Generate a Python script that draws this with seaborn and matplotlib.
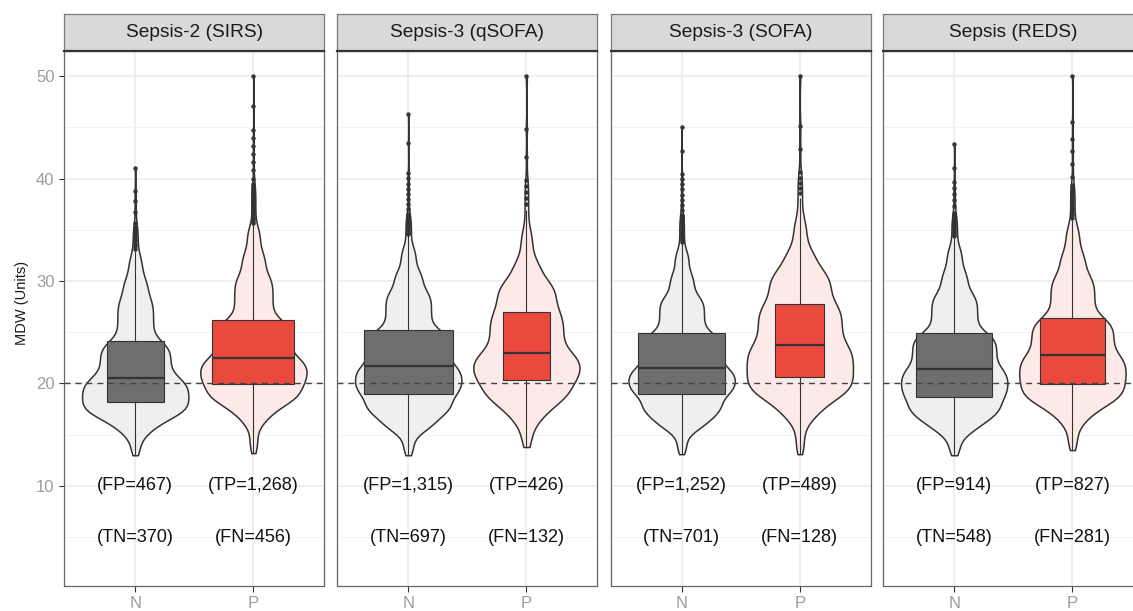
import numpy as np
import pandas as pd
import matplotlib
matplotlib.use("Agg")
import matplotlib.pyplot as plt
import seaborn as sns

# ---- data -------------------------------------------------------------
criteria = ["Sepsis-2 (SIRS)", "Sepsis-3 (qSOFA)", "Sepsis-3 (SOFA)", "Sepsis (REDS)"]
groups = ["N", "P"]

# confusion-matrix counts per criterion
fp = [467, 1315, 1252, 914]
tn = [370, 697, 701, 548]
tp = [1268, 426, 489, 827]
fn = [456, 132, 128, 281]

# MDW quantiles at these probability levels, per criterion and group
q_levels = [0.0, 0.02, 0.05, 0.10, 0.25, 0.50, 0.75, 0.90, 0.95, 0.98, 0.995, 0.999, 1.0]

sirs_n = [13.0, 15.0, 15.9, 16.8, 18.2, 20.55, 24.1, 28.3, 30.3, 32.5, 35.5, 39.0, 41.0]
sirs_p = [13.2, 16.0, 17.2, 18.2, 19.95, 22.5, 26.2, 30.5, 32.8, 35.3, 39.5, 45.0, 50.0]
qsofa_n = [13.0, 15.2, 16.0, 17.0, 19.0, 21.7, 25.2, 29.0, 31.0, 33.3, 36.5, 40.5, 46.3]
qsofa_p = [13.8, 16.0, 17.2, 18.3, 20.3, 23.0, 27.0, 30.0, 32.0, 35.0, 40.0, 46.0, 50.0]
sofa_n = [13.1, 15.3, 16.1, 17.0, 19.0, 21.5, 24.9, 28.5, 30.7, 33.0, 36.5, 40.5, 45.0]
sofa_p = [13.1, 16.3, 17.5, 18.7, 20.6, 23.75, 27.75, 31.0, 33.0, 36.0, 40.5, 46.0, 50.0]
reds_n = [13.0, 15.0, 15.9, 16.8, 18.7, 21.45, 24.95, 28.8, 31.0, 33.3, 36.5, 40.0, 43.4]
reds_p = [13.5, 16.0, 17.2, 18.2, 19.95, 22.75, 26.4, 30.5, 32.8, 35.4, 39.5, 45.0, 50.0]

quantiles = {
    ("Sepsis-2 (SIRS)", "N"): sirs_n, ("Sepsis-2 (SIRS)", "P"): sirs_p,
    ("Sepsis-3 (qSOFA)", "N"): qsofa_n, ("Sepsis-3 (qSOFA)", "P"): qsofa_p,
    ("Sepsis-3 (SOFA)", "N"): sofa_n, ("Sepsis-3 (SOFA)", "P"): sofa_p,
    ("Sepsis (REDS)", "N"): reds_n, ("Sepsis (REDS)", "P"): reds_p,
}

# expand each group's quantile function into one value per patient
rows = []
for i, crit in enumerate(criteria):
    sizes = {"N": fp[i] + tn[i], "P": tp[i] + fn[i]}
    for g in groups:
        n = sizes[g]
        vals = np.interp(np.linspace(0, 1, n), q_levels, quantiles[(crit, g)])
        rows.append(pd.DataFrame({"criterion": crit, "group": g, "MDW": vals}))
df = pd.concat(rows, ignore_index=True)

# ---- style ------------------------------------------------------------
sns.set_theme(style="white")
plt.rcParams["font.family"] = ["Liberation Sans", "DejaVu Sans"]

violin_fill = {"N": "#efefef", "P": "#fde9e7"}
box_fill = {"N": "#6e6e6e", "P": "#ea4a3e"}
dark = "#333333"
tick_grey = "#9c9c9c"

W, H = 1133, 611
fig = plt.figure(figsize=(W / 100, H / 100), dpi=100)

panel_left = [64.3, 337.3, 610.7, 883.3]
panel_w = 260.0
panel_top, panel_bot = 50.7, 586.3
strip_top = 14.0

max_n = max(max(fp[i] + tn[i], tp[i] + fn[i]) for i in range(len(criteria)))

for i, crit in enumerate(criteria):
    x0 = panel_left[i]
    ax = fig.add_axes([x0 / W, 1 - panel_bot / H, panel_w / W, (panel_bot - panel_top) / H])
    sub = df[df["criterion"] == crit]

    sns.violinplot(data=sub, x="group", y="MDW", hue="group", order=groups,
                   hue_order=groups, palette=violin_fill, saturation=1,
                   density_norm="area", cut=0, bw_adjust=0.6, width=0.9,
                   inner=None, linecolor=dark, linewidth=1.1, legend=False, ax=ax)

    sizes = {"N": fp[i] + tn[i], "P": tp[i] + fn[i]}
    for g in groups:
        w = 0.75 * np.sqrt(sizes[g] / max_n)
        sns.boxplot(data=sub[sub["group"] == g], x="group", y="MDW", order=groups,
                    width=w, color=box_fill[g], saturation=1, linecolor=dark,
                    linewidth=0.8, showcaps=False,
                    medianprops=dict(color=dark, linewidth=1.6),
                    flierprops=dict(marker="o", markersize=2.8, markerfacecolor=dark,
                                    markeredgecolor=dark, markeredgewidth=0.3),
                    ax=ax)

    ax.axhline(20, color="#444444", linewidth=1.0, linestyle=(0, (4.3, 3.6)), zorder=6)

    # count annotations
    ax.text(0, 10, f"(FP={fp[i]:,})", ha="center", va="center", fontsize=13.1, color="#111111")
    ax.text(1, 10, f"(TP={tp[i]:,})", ha="center", va="center", fontsize=13.1, color="#111111")
    ax.text(0, 5, f"(TN={tn[i]:,})", ha="center", va="center", fontsize=13.1, color="#111111")
    ax.text(1, 5, f"(FN={fn[i]:,})", ha="center", va="center", fontsize=13.1, color="#111111")

    ax.set_xlim(-0.6, 1.6)
    ax.set_ylim(0.21, 52.47)
    ax.set_yticks([10, 20, 30, 40, 50])
    ax.set_yticks([5, 15, 25, 35, 45], minor=True)
    ax.set_axisbelow(True)
    ax.grid(True, which="major", color="#ebebeb", linewidth=1.1)
    ax.grid(True, which="minor", axis="y", color="#f3f3f3", linewidth=0.7)
    ax.set_xlabel("")
    ax.set_ylabel("")
    ax.tick_params(axis="x", length=4, width=0.8, color=dark, pad=3,
                   labelsize=12, labelcolor=tick_grey, bottom=True)
    if i == 0:
        ax.tick_params(axis="y", which="major", length=3.6, width=0.8, color=dark,
                       pad=3.4, labelsize=12, labelcolor=tick_grey, left=True)
    else:
        ax.tick_params(axis="y", which="major", length=0, labelleft=False)
    ax.tick_params(axis="y", which="minor", length=0)
    for s in ax.spines.values():
        s.set_color("#666666")
        s.set_linewidth(0.9)

    # facet strip
    sax = fig.add_axes([x0 / W, 1 - panel_top / H, panel_w / W, (panel_top - strip_top) / H])
    sax.set_facecolor("#d9d9d9")
    sax.set_xticks([])
    sax.set_yticks([])
    for s in sax.spines.values():
        s.set_color("#7a7a7a")
        s.set_linewidth(0.9)
    sax.spines["bottom"].set_color(dark)
    sax.spines["bottom"].set_linewidth(1.6)
    sax.text(0.5, 0.5, crit, ha="center", va="center", fontsize=13.8,
             color="#1a1a1a", transform=sax.transAxes)

fig.text(22 / W, 1 - 303 / H, "MDW (Units)", rotation=90, ha="center", va="center",
         fontsize=10.5, color="#1a1a1a")

fig.savefig("out.png", dpi=100)
